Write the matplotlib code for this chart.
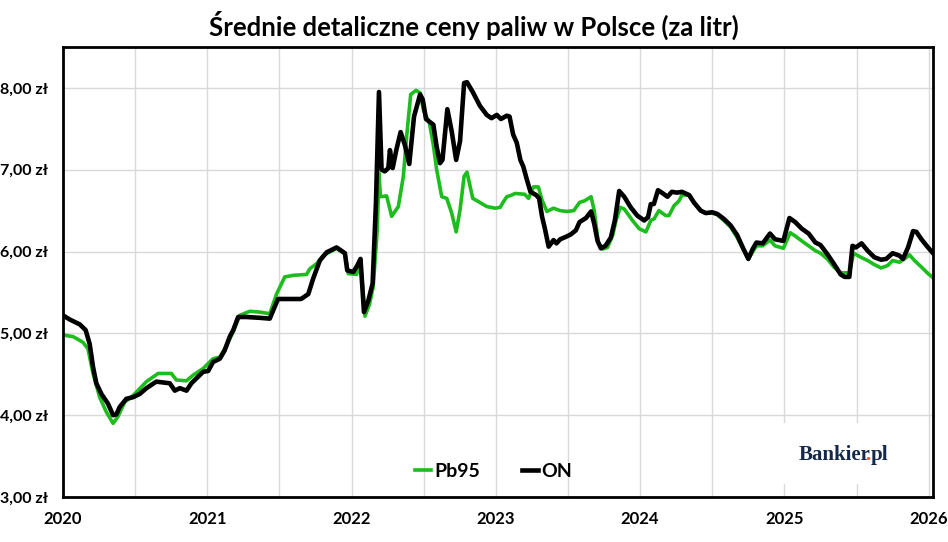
import matplotlib
matplotlib.use("Agg")
import matplotlib.pyplot as plt
from matplotlib.patches import Rectangle

plt.rcParams['font.family'] = ['Lato', 'DejaVu Sans']
plt.rcParams['font.weight'] = 'bold'

# Pb95 - weekly average price (fractional year, zl per litre)
pb95_t = [2020.000, 2020.070, 2020.139, 2020.173, 2020.208, 2020.254, 2020.300, 2020.347,
          2020.380, 2020.428, 2020.486, 2020.578, 2020.659, 2020.751, 2020.786, 2020.856,
          2020.902, 2020.971, 2021.040, 2021.087, 2021.133, 2021.180, 2021.225, 2021.295,
          2021.364, 2021.433, 2021.480, 2021.537, 2021.600, 2021.688, 2021.711, 2021.757,
          2021.803, 2021.896, 2021.954, 2021.977, 2022.035, 2022.062, 2022.093, 2022.125,
          2022.150, 2022.178, 2022.190, 2022.200, 2022.243, 2022.278, 2022.324, 2022.359,
          2022.382, 2022.410, 2022.447, 2022.475, 2022.498, 2022.540, 2022.567, 2022.590,
          2022.625, 2022.660, 2022.694, 2022.725, 2022.752, 2022.780, 2022.800, 2022.840,
          2022.880, 2022.937, 2022.995, 2023.030, 2023.053, 2023.076, 2023.110, 2023.133,
          2023.200, 2023.227, 2023.260, 2023.295, 2023.320, 2023.354, 2023.400, 2023.446,
          2023.493, 2023.540, 2023.580, 2023.615, 2023.660, 2023.682, 2023.710, 2023.740,
          2023.774, 2023.810, 2023.833, 2023.862, 2023.890, 2023.947, 2023.993, 2024.040,
          2024.074, 2024.097, 2024.130, 2024.177, 2024.200, 2024.235, 2024.270, 2024.290,
          2024.340, 2024.373, 2024.420, 2024.455, 2024.500, 2024.535, 2024.580, 2024.627,
          2024.673, 2024.714, 2024.750, 2024.806, 2024.850, 2024.900, 2024.935, 2024.993,
          2025.040, 2025.075, 2025.120, 2025.168, 2025.215, 2025.250, 2025.297, 2025.343,
          2025.390, 2025.450, 2025.480, 2025.530, 2025.577, 2025.624, 2025.670, 2025.717,
          2025.750, 2025.797, 2025.832, 2025.867, 2025.902, 2025.950, 2025.996, 2026.030]
pb95_v = [4.98, 4.96, 4.89, 4.81, 4.51, 4.22, 4.04, 3.90,
          3.98, 4.16, 4.24, 4.41, 4.51, 4.51, 4.43, 4.42,
          4.49, 4.57, 4.69, 4.71, 4.85, 5.02, 5.22, 5.27,
          5.26, 5.24, 5.48, 5.69, 5.71, 5.72, 5.79, 5.85,
          5.95, 6.04, 5.97, 5.73, 5.72, 5.89, 5.21, 5.36,
          5.57, 6.26, 6.96, 6.67, 6.68, 6.43, 6.55, 6.92,
          7.41, 7.92, 7.97, 7.94, 7.73, 7.57, 7.30, 7.00,
          6.67, 6.65, 6.47, 6.24, 6.51, 6.92, 6.97, 6.65,
          6.61, 6.55, 6.53, 6.54, 6.61, 6.67, 6.69, 6.71,
          6.70, 6.65, 6.79, 6.79, 6.63, 6.49, 6.53, 6.50,
          6.49, 6.50, 6.60, 6.62, 6.67, 6.50, 6.11, 6.03,
          6.05, 6.20, 6.38, 6.54, 6.52, 6.38, 6.28, 6.24,
          6.38, 6.40, 6.50, 6.44, 6.44, 6.56, 6.62, 6.69,
          6.69, 6.60, 6.50, 6.47, 6.47, 6.45, 6.38, 6.30,
          6.17, 6.03, 5.91, 6.07, 6.07, 6.14, 6.07, 6.04,
          6.23, 6.19, 6.13, 6.07, 6.01, 5.98, 5.91, 5.81,
          5.74, 5.74, 5.98, 5.93, 5.89, 5.84, 5.80, 5.83,
          5.89, 5.87, 5.91, 5.96, 5.89, 5.81, 5.73, 5.68]

# ON (diesel)
on_t = [2020.000, 2020.046, 2020.116, 2020.157, 2020.185, 2020.208, 2020.231, 2020.266,
        2020.312, 2020.347, 2020.370, 2020.393, 2020.439, 2020.486, 2020.532, 2020.578,
        2020.647, 2020.694, 2020.740, 2020.775, 2020.810, 2020.856, 2020.890, 2020.936,
        2020.971, 2021.006, 2021.040, 2021.087, 2021.120, 2021.156, 2021.180, 2021.214,
        2021.270, 2021.364, 2021.433, 2021.490, 2021.650, 2021.700, 2021.734, 2021.780,
        2021.827, 2021.896, 2021.954, 2021.970, 2022.012, 2022.040, 2022.062, 2022.086,
        2022.116, 2022.146, 2022.169, 2022.190, 2022.208, 2022.230, 2022.255, 2022.266,
        2022.285, 2022.310, 2022.340, 2022.370, 2022.400, 2022.433, 2022.475, 2022.493,
        2022.516, 2022.567, 2022.590, 2022.613, 2022.630, 2022.664, 2022.694, 2022.725,
        2022.752, 2022.780, 2022.800, 2022.840, 2022.890, 2022.937, 2022.970, 2023.007,
        2023.035, 2023.076, 2023.095, 2023.120, 2023.145, 2023.170, 2023.190, 2023.215,
        2023.240, 2023.280, 2023.300, 2023.320, 2023.340, 2023.366, 2023.400, 2023.420,
        2023.446, 2023.486, 2023.520, 2023.555, 2023.580, 2023.625, 2023.660, 2023.682,
        2023.705, 2023.728, 2023.760, 2023.797, 2023.825, 2023.855, 2023.890, 2023.935,
        2023.980, 2024.028, 2024.055, 2024.074, 2024.095, 2024.124, 2024.150, 2024.190,
        2024.220, 2024.255, 2024.290, 2024.340, 2024.373, 2024.420, 2024.455, 2024.500,
        2024.535, 2024.580, 2024.627, 2024.673, 2024.714, 2024.750, 2024.780, 2024.806,
        2024.850, 2024.900, 2024.935, 2024.993, 2025.035, 2025.075, 2025.120, 2025.168,
        2025.215, 2025.250, 2025.297, 2025.343, 2025.390, 2025.418, 2025.450, 2025.472,
        2025.495, 2025.535, 2025.577, 2025.624, 2025.670, 2025.706, 2025.750, 2025.797,
        2025.822, 2025.857, 2025.892, 2025.915, 2025.950, 2025.986, 2026.030]
on_v = [5.22, 5.17, 5.11, 5.04, 4.87, 4.59, 4.39, 4.26,
        4.14, 4.00, 4.01, 4.10, 4.20, 4.22, 4.26, 4.33,
        4.41, 4.40, 4.39, 4.30, 4.33, 4.30, 4.39, 4.47,
        4.53, 4.54, 4.65, 4.69, 4.79, 4.96, 5.04, 5.20,
        5.20, 5.19, 5.18, 5.42, 5.42, 5.48, 5.67, 5.89,
        5.99, 6.05, 5.98, 5.77, 5.75, 5.83, 5.91, 5.26,
        5.40, 5.61, 6.59, 7.95, 7.00, 6.98, 7.02, 7.24,
        7.02, 7.24, 7.46, 7.30, 7.07, 7.65, 7.92, 7.86,
        7.62, 7.55, 7.28, 7.08, 7.12, 7.74, 7.47, 7.12,
        7.35, 8.06, 8.07, 7.95, 7.78, 7.67, 7.63, 7.67,
        7.62, 7.66, 7.65, 7.43, 7.33, 7.12, 7.04, 6.88,
        6.73, 6.69, 6.65, 6.43, 6.28, 6.06, 6.14, 6.10,
        6.15, 6.18, 6.21, 6.26, 6.36, 6.41, 6.49, 6.34,
        6.13, 6.04, 6.07, 6.17, 6.38, 6.74, 6.67, 6.54,
        6.44, 6.38, 6.42, 6.58, 6.58, 6.75, 6.72, 6.67,
        6.73, 6.72, 6.73, 6.69, 6.60, 6.50, 6.47, 6.48,
        6.46, 6.40, 6.32, 6.20, 6.04, 5.91, 6.03, 6.11,
        6.10, 6.22, 6.15, 6.13, 6.41, 6.36, 6.28, 6.22,
        6.11, 6.08, 5.97, 5.85, 5.72, 5.69, 5.69, 6.07,
        6.05, 6.10, 6.01, 5.93, 5.90, 5.91, 5.98, 5.95,
        5.91, 6.05, 6.25, 6.24, 6.15, 6.07, 5.98]

years = [2020, 2021, 2022, 2023, 2024, 2025, 2026]
price_ticks = [3, 4, 5, 6, 7, 8]

green = '#1cbd1c'

fig = plt.figure(figsize=(9.48, 5.42), dpi=100)
ax = fig.add_axes([63 / 948, 45 / 542, 870 / 948, 450 / 542])

ax.plot(pb95_t, pb95_v, color=green, lw=2.6, label='Pb95', solid_joinstyle='round')
ax.plot(on_t, on_v, color='black', lw=3.3, label='ON', solid_joinstyle='round')

ax.set_xlim(2020, 2026.03)
ax.set_ylim(3, 8.5)
ax.set_xticks(years)
ax.set_xticklabels([str(y) for y in years])
ax.set_xticks([y + 0.5 for y in years[:-1]], minor=True)
ax.set_yticks(price_ticks)
ax.set_yticklabels([f'{p},00 zł' for p in price_ticks])

ax.grid(True, which='both', axis='x', color='#d9d9d9', lw=1)
ax.grid(True, which='major', axis='y', color='#d9d9d9', lw=1)
ax.set_axisbelow(True)
ax.tick_params(which='both', length=0)
ax.tick_params(axis='y', pad=11, labelsize=11.5)
ax.tick_params(axis='x', pad=10, labelsize=12)

for side in ['left', 'bottom', 'top', 'right']:
    ax.spines[side].set_color('black')
    ax.spines[side].set_linewidth(2)

fig.text(0.5, 1 - 25 / 542, 'Średnie detaliczne ceny paliw w Polsce (za litr)',
         ha='center', va='center', fontsize=18.5, fontweight='bold')

leg = ax.legend(loc='center', bbox_to_anchor=(0.495, 0.057), ncol=2, frameon=False,
                handlelength=0.8, handletextpad=0.15, columnspacing=2.2,
                prop={'size': 14, 'weight': 'bold'})

# logo box + Bankier.pl logo, three pieces so the dot can be orange
ax.add_patch(Rectangle((0.815, 0.03), 0.16, 0.135, transform=ax.transAxes,
                       facecolor='white', edgecolor='none', zorder=1.5))
navy = '#14284b'
logo_font = dict(fontsize=15, fontweight='bold', family='Liberation Serif')
t1 = ax.text(0.845, 0.093, 'Bankier', transform=ax.transAxes, ha='left', va='center',
             color=navy, zorder=3, **logo_font)
t2 = ax.annotate('.', xy=(1, 0), xycoords=t1, xytext=(-3.5, 0), textcoords='offset points',
                 ha='left', va='bottom', color='#e8562a', zorder=3, **logo_font)
ax.annotate('pl', xy=(1, 0), xycoords=t2, xytext=(0, 0), textcoords='offset points',
            ha='left', va='bottom', color=navy, zorder=3, **logo_font)

fig.savefig('out.png', dpi=100)
